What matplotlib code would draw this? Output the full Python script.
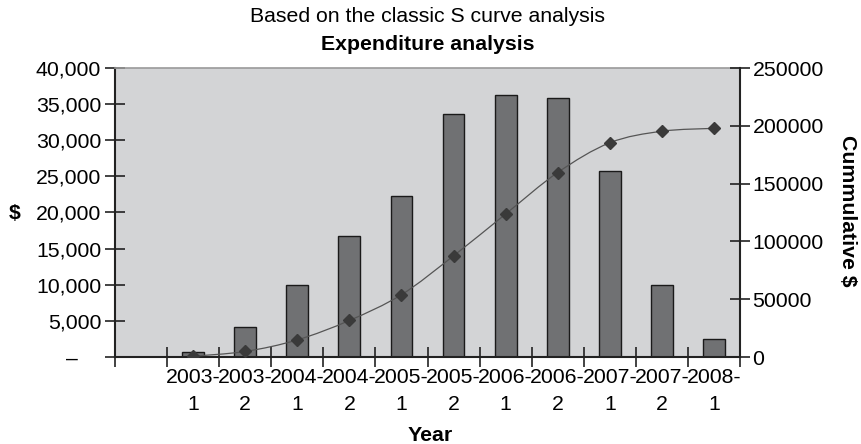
import numpy as np
import matplotlib
matplotlib.use("Agg")
import matplotlib.pyplot as plt
from matplotlib.path import Path
from matplotlib.patches import PathPatch
from matplotlib.ticker import FuncFormatter, FixedLocator

plt.rcParams['font.family'] = ['Liberation Sans', 'DejaVu Sans']

# Half-year periods and spending
periods = ["2003-1", "2003-2", "2004-1", "2004-2", "2005-1", "2005-2",
           "2006-1", "2006-2", "2007-1", "2007-2", "2008-1"]
expenditure = [700, 4100, 10000, 16800, 22300, 33600,
               36200, 35900, 25700, 10000, 2500]
cumulative = [700, 4800, 14800, 31600, 53900, 87500,
              123700, 159600, 185300, 195300, 197800]

left_ticks = [0, 5000, 10000, 15000, 20000, 25000, 30000, 35000, 40000]
right_ticks = [0, 50000, 100000, 150000, 200000, 250000]

FS = 15.3
BG = "#d3d4d6"
BAR = "#707173"
MARK = "#3a3a3a"

fig = plt.figure(figsize=(8.61, 4.44), dpi=100)
ax = fig.add_axes([115/861, 1-357/444, 625/861, 289/444])
ax.set_facecolor(BG)

n = len(periods)
x = np.arange(1, n + 1)
ax.bar(x, expenditure, width=0.42, color=BAR, edgecolor="#1a1a1a",
       linewidth=1.0, zorder=2)

ax.set_xlim(-0.5, n + 0.5)
ax.set_ylim(0, 40000)

# category boundaries carry the tick marks, centres carry the labels
ax.xaxis.set_major_locator(FixedLocator(np.arange(-0.5, n + 1, 1.0)))
ax.xaxis.set_major_formatter(FuncFormatter(lambda v, p: ""))
ax.xaxis.set_minor_locator(FixedLocator(x))
ax.set_xticklabels([p.replace("-", "-\n") for p in periods], minor=True,
                   fontsize=FS, linespacing=1.55)
ax.tick_params(axis="x", which="major", direction="inout", length=14,
               width=1.2, color="#222222")
ax.tick_params(axis="x", which="minor", length=0, pad=8)

ax.yaxis.set_major_locator(FixedLocator(left_ticks))
ax.yaxis.set_major_formatter(
    FuncFormatter(lambda v, p: "–    " if v == 0 else f"{int(v):,}"))
ax.tick_params(axis="y", direction="inout", length=14, width=1.2,
               color="#222222", labelsize=FS, pad=3)

for side in ["left", "bottom"]:
    ax.spines[side].set_color("#222222")
    ax.spines[side].set_linewidth(1.5)
ax.spines["top"].set_color("#9a9a9a")
ax.spines["top"].set_linewidth(1.2)
ax.spines["right"].set_visible(False)

ax2 = ax.twinx()
ax2.set_ylim(0, 250000)
ax2.set_xlim(ax.get_xlim())
ax2.yaxis.set_major_locator(FixedLocator(right_ticks))
ax2.yaxis.set_major_formatter(FuncFormatter(lambda v, p: f"{int(v)}"))
ax2.tick_params(axis="y", direction="inout", length=14, width=1.2,
                color="#222222", labelsize=FS, pad=2)
for side in ["left", "top", "bottom"]:
    ax2.spines[side].set_visible(False)
ax2.spines["right"].set_color("#222222")
ax2.spines["right"].set_linewidth(1.5)

# smoothed cumulative line (Catmull-Rom segments as cubic Beziers)
px = np.asarray(x, dtype=float)
py = np.asarray(cumulative, dtype=float)
verts = [(px[0], py[0])]
codes = [Path.MOVETO]
for i in range(n - 1):
    p0 = (px[max(i - 1, 0)], py[max(i - 1, 0)])
    p1 = (px[i], py[i])
    p2 = (px[i + 1], py[i + 1])
    p3 = (px[min(i + 2, n - 1)], py[min(i + 2, n - 1)])
    c1 = (p1[0] + (p2[0] - p0[0]) / 6, p1[1] + (p2[1] - p0[1]) / 6)
    c2 = (p2[0] - (p3[0] - p1[0]) / 6, p2[1] - (p3[1] - p1[1]) / 6)
    verts += [c1, c2, p2]
    codes += [Path.CURVE4] * 3
ax2.add_patch(PathPatch(Path(verts, codes), facecolor="none",
                        edgecolor="#555555", linewidth=0.9, zorder=3))
ax2.plot(px, py, linestyle="none", marker="D", markersize=6.5,
         color=MARK, zorder=4)

fig.text(0.4965, 1-17/444, "Based on the classic S curve analysis",
         ha="center", va="center", fontsize=FS)
fig.text(0.4965, 1-45/444, "Expenditure analysis", ha="center",
         va="center", fontsize=FS, fontweight="bold")
fig.text(15/861, 1-213/444, "$", ha="center", va="center",
         fontsize=FS, fontweight="bold")
fig.text(847/861, 1-211/444, "Cummulative $", ha="center", va="center",
         fontsize=FS, fontweight="bold", rotation=270)
fig.text(430/861, 1-435/444, "Year", ha="center", va="center",
         fontsize=FS, fontweight="bold")

fig.savefig("out.png", dpi=100)
